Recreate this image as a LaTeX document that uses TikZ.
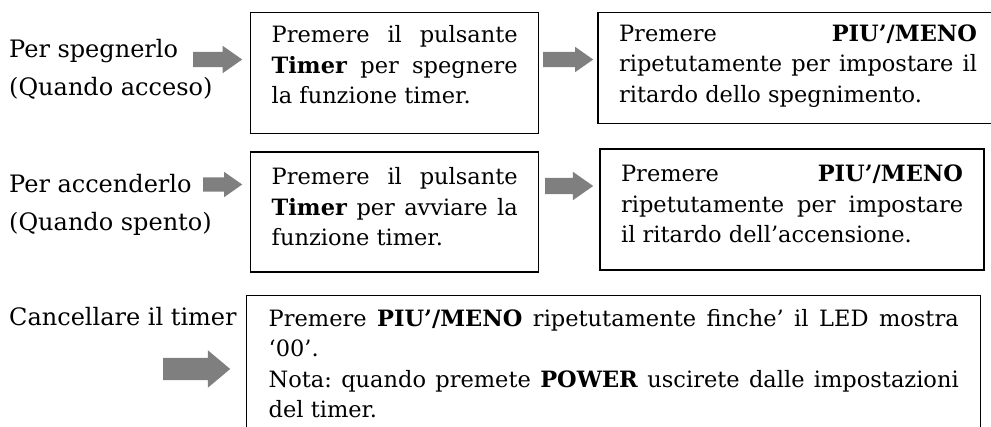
\documentclass[tikz,border=0pt]{standalone}
\usepackage{fontspec}
\setmainfont{DejaVu Serif}
\usepackage{tikz}
\usepackage{xcolor}
\usetikzlibrary{positioning,shapes.arrows}
\definecolor{tmgray}{HTML}{7F7F7F}
\frenchspacing
\newcommand{\boxfont}{\fontsize{22.5}{30.5}\selectfont\tolerance=10000\hyphenpenalty=10000}
\newcommand{\lblfont}{\fontsize{24}{38}\selectfont}
% invisible depth at the end of a box text, to lift the text in its box
\newcommand{\lowpad}[1]{\rule[-#1]{0pt}{#1}}
\tikzset{
  stepBox/.style={draw, line width=1.4pt, align=justify, inner xsep=21pt, inner ysep=0pt, font=\boxfont, anchor=north west},
  sideLabel/.style={font=\lblfont, align=left, inner sep=0pt, anchor=north west},
  grayArrow/.style={single arrow, fill=tmgray, draw=none, inner xsep=0pt, anchor=tail, single arrow tip angle=70}
}

\begin{document}
\begin{tikzpicture}[x=1pt, y=-1pt]
  \useasboundingbox (0,0) rectangle (991,427);
  % left hand labels
  \node[sideLabel] (offLbl) at (9,39) {Per spegnerlo\\(Quando acceso)};
  \node[sideLabel] (onLbl) at (9,174) {Per accenderlo\\(Quando spento)};
  \node[sideLabel] (cancelLbl) at (9,307) {Cancellare il timer};
  % step boxes
  \node[stepBox, text width=246pt, minimum height=121pt] (offStep1) at (250,12)
    {Premere il pulsante\linebreak \textbf{Timer} per spegnere\linebreak la funzione timer.\lowpad{17pt}};
  \node[stepBox, text width=358pt, minimum height=111pt, right=58pt of offStep1.north east, anchor=north west] (offStep2)
    {Premere \textbf{PIU’/MENO}\linebreak ripetutamente per impostare il\linebreak ritardo dello spegnimento.\lowpad{10pt}};
  \node[stepBox, text width=246pt, minimum height=120pt, below=17pt of offStep1.south west, anchor=north west] (onStep1)
    {Premere il pulsante\linebreak \textbf{Timer} per avviare la\linebreak funzione timer.\lowpad{11pt}};
  \node[stepBox, text width=342pt, minimum height=121pt, right=60pt of onStep1.north east, anchor=north west, yshift=3pt] (onStep2)
    {Premere \textbf{PIU’/MENO}\linebreak ripetutamente per impostare\linebreak il ritardo dell’accensione.\lowpad{11pt}};
  \node[stepBox, text width=690pt, inner xsep=22pt, minimum height=150pt, below=22pt of onStep1.south west, anchor=north west, xshift=-4pt] (cancelStep)
    {Premere \textbf{PIU’/MENO} ripetutamente finche’ il LED mostra\linebreak ‘00’.\newline Nota: quando premete \textbf{POWER} uscirete dalle impostazioni\linebreak del timer.\lowpad{14pt}};
  % gray block arrows
  \node[grayArrow, minimum height=49pt, inner ysep=7.5pt, single arrow head extend=6pt] (offArr1) at (193,59.5) {};
  \node[grayArrow, minimum height=50pt, inner ysep=7.5pt, single arrow head extend=5pt] (offArr2) at (543,59.5) {};
  \node[grayArrow, minimum height=39pt, inner ysep=7pt, single arrow head extend=5.5pt] (onArr1) at (203,184.5) {};
  \node[grayArrow, minimum height=48pt, inner ysep=8pt, single arrow head extend=6pt] (onArr2) at (545,186) {};
  \node[grayArrow, minimum height=67pt, inner ysep=11pt, single arrow head extend=7.5pt, single arrow tip angle=80] (cancelArr) at (163,369) {};
\end{tikzpicture}
\end{document}
